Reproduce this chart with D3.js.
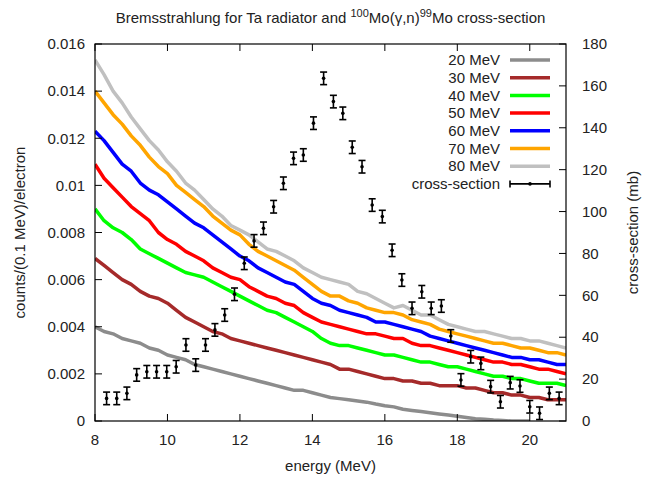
<!DOCTYPE html>
<html>
<head>
<meta charset="utf-8">
<script src="https://cdn.jsdelivr.net/npm/d3@7"></script>
<style>
  body { margin: 0; background: #fff; }
  text { font-family: "Liberation Sans", Arial, sans-serif; fill: #222; }
</style>
</head>
<body>
<script>
// spectra sampled every 0.25 MeV from 8 to 21 MeV
var energies = d3.range(0, 53).map(function(i) { return 8 + i * 0.25; });

var spec20 = [0.0040, 0.0038, 0.0037, 0.0035, 0.0034, 0.0033, 0.0031, 0.0030, 0.0028, 0.0027,
  0.0026, 0.0024, 0.0023, 0.0022, 0.0021, 0.0020, 0.0019, 0.0018, 0.0017, 0.0016,
  0.0015, 0.0014, 0.0013, 0.0013, 0.0012, 0.0011, 0.0010, 0.00095, 0.0009, 0.00085,
  0.0008, 0.00072, 0.00065, 0.0006, 0.0005, 0.00045, 0.0004, 0.00035, 0.0003, 0.00025,
  0.0002, 0.00015, 0.0001, 0.00007, 0.00004, 0.00002, 0, 0, 0];
var spec30 = [0.0069, 0.0066, 0.0063, 0.0060, 0.0058, 0.0055, 0.0053, 0.0052, 0.0050, 0.0047,
  0.0044, 0.0042, 0.0040, 0.0038, 0.0037, 0.0035, 0.0034, 0.0033, 0.0032, 0.0031,
  0.0030, 0.0029, 0.0028, 0.0027, 0.0026, 0.0025, 0.0024, 0.0022, 0.0022, 0.0021,
  0.0020, 0.0019, 0.0018, 0.0018, 0.0017, 0.0017, 0.0016, 0.0016, 0.0015, 0.0015,
  0.0015, 0.0014, 0.0014, 0.0013, 0.0012, 0.0012, 0.0011, 0.0011, 0.0010, 0.0010,
  0.0009, 0.0009, 0.0009];
var spec40 = [0.0090, 0.0085, 0.0082, 0.0080, 0.0077, 0.0073, 0.0071, 0.0069, 0.0067, 0.0065,
  0.0063, 0.0062, 0.0061, 0.0059, 0.0057, 0.0055, 0.0053, 0.0051, 0.0049, 0.0047,
  0.0046, 0.0044, 0.0042, 0.0040, 0.0038, 0.0035, 0.0033, 0.0032, 0.0032, 0.0031,
  0.0030, 0.0029, 0.0028, 0.0028, 0.0027, 0.0026, 0.0025, 0.0025, 0.0024, 0.0023,
  0.0023, 0.0022, 0.0021, 0.0020, 0.0019, 0.0019, 0.0018, 0.0018, 0.0017, 0.0016,
  0.0016, 0.0016, 0.0015];
var spec50 = [0.0109, 0.0103, 0.0099, 0.0095, 0.0091, 0.0088, 0.0085, 0.0080, 0.0077, 0.0075,
  0.0072, 0.0070, 0.0068, 0.0065, 0.0063, 0.0061, 0.0060, 0.0057, 0.0055, 0.0053,
  0.0052, 0.0050, 0.0049, 0.0046, 0.0044, 0.0042, 0.0041, 0.0040, 0.0039, 0.0038,
  0.0037, 0.0037, 0.0036, 0.0035, 0.0035, 0.0033, 0.0032, 0.0032, 0.0031, 0.0030,
  0.0029, 0.0028, 0.0027, 0.0026, 0.0025, 0.0025, 0.0024, 0.0024, 0.0023, 0.0022,
  0.0022, 0.0021, 0.0020];
var spec60 = [0.0123, 0.0119, 0.0114, 0.0109, 0.0106, 0.0101, 0.0098, 0.0096, 0.0093, 0.0090,
  0.0087, 0.0084, 0.0082, 0.0079, 0.0076, 0.0073, 0.0070, 0.0068, 0.0065, 0.0063,
  0.0061, 0.0059, 0.0058, 0.0055, 0.0052, 0.0050, 0.0049, 0.0047, 0.0046, 0.0045,
  0.0044, 0.0042, 0.0042, 0.0041, 0.0040, 0.0039, 0.0038, 0.0036, 0.0035, 0.0034,
  0.0033, 0.0032, 0.0031, 0.0030, 0.0029, 0.0028, 0.0027, 0.0027, 0.0026, 0.0026,
  0.0025, 0.0024, 0.0024];
var spec70 = [0.0140, 0.0135, 0.0130, 0.0126, 0.0121, 0.0117, 0.0112, 0.0108, 0.0105, 0.0100,
  0.0097, 0.0094, 0.0091, 0.0087, 0.0084, 0.0081, 0.0079, 0.0075, 0.0072, 0.0070,
  0.0068, 0.0066, 0.0064, 0.0061, 0.0058, 0.0055, 0.0053, 0.0053, 0.0051, 0.0050,
  0.0048, 0.0047, 0.0046, 0.0046, 0.0045, 0.0043, 0.0042, 0.0041, 0.0039, 0.0038,
  0.0037, 0.0036, 0.0035, 0.0034, 0.0033, 0.0033, 0.0032, 0.0031, 0.0031, 0.0030,
  0.0029, 0.0029, 0.0028];
var spec80 = [0.01532, 0.0147, 0.0140, 0.0135, 0.0129, 0.0124, 0.0119, 0.0115, 0.0110, 0.0106,
  0.0101, 0.0098, 0.0094, 0.0090, 0.0087, 0.0083, 0.0081, 0.0079, 0.0076, 0.0073,
  0.0072, 0.0070, 0.0068, 0.0065, 0.0063, 0.0061, 0.0060, 0.0059, 0.0058, 0.0055,
  0.0054, 0.0052, 0.0050, 0.0048, 0.0049, 0.0047, 0.0045, 0.0045, 0.0043, 0.0041,
  0.0040, 0.0039, 0.0038, 0.0038, 0.0037, 0.0036, 0.0035, 0.0035, 0.0034, 0.0034,
  0.0033, 0.0032, 0.0031];

var seriesNames = ["20 MeV", "30 MeV", "40 MeV", "50 MeV", "60 MeV", "70 MeV", "80 MeV"];
var seriesColors = ["#8c8c8c", "#a52a2a", "#00ff00", "#ff0000", "#0000ff", "#ffa500", "#c0c0c0"];

// 100Mo(g,n) cross-section points (mb)
var csEnergy = [8.32, 8.60, 8.88, 9.15, 9.43, 9.70, 9.98, 10.24, 10.51, 10.78, 11.05, 11.31,
  11.58, 11.85, 12.12, 12.39, 12.65, 12.93, 13.20, 13.48, 13.75, 14.03, 14.31, 14.58, 14.84,
  15.10, 15.37, 15.65, 15.93, 16.20, 16.47, 16.75, 17.02, 17.28, 17.56, 17.82, 18.10, 18.37,
  18.65, 18.92, 19.19, 19.46, 19.73, 20.00, 20.27, 20.54, 20.81];
var csValue = [10.8, 10.8, 13.2, 22.0, 23.5, 23.5, 23.5, 25.9, 36.3, 26.7, 36.3, 43.5,
  50.6, 60.5, 75.3, 86.0, 92.0, 102.3, 113.5, 125.4, 127.0, 142.2, 163.6, 152.5, 146.9,
  130.7, 121.4, 103.1, 97.6, 81.5, 67.3, 53.8, 61.7, 53.8, 54.9, 40.6, 19.6, 30.7,
  27.5, 16.4, 9.2, 18.3, 16.7, 6.8, 3.7, 13.2, 10.8];
var csError = [3, 3, 3, 3, 3, 3, 3, 3, 3, 3, 3, 3, 3, 3, 3, 3, 3, 3, 3, 3, 3, 3, 3, 3, 3,
  3, 3, 3, 3, 3, 3, 3, 3, 3, 3, 3, 3, 3, 3, 3, 3, 3, 3, 3, 3, 3, 3];

var xTicks = [8, 10, 12, 14, 16, 18, 20];
var yTicks = [0, 0.002, 0.004, 0.006, 0.008, 0.01, 0.012, 0.014, 0.016];
var y2Ticks = [0, 20, 40, 60, 80, 100, 120, 140, 160, 180];

const W = 654, H = 477;
const margin = {top: 44, right: 88, bottom: 56, left: 95};
var width = W - margin.left - margin.right;
var height = H - margin.top - margin.bottom;

var svgRoot = d3.select("body").append("svg")
  .attr("width", W)
  .attr("height", H);
svgRoot.append("rect").attr("width", W).attr("height", H).attr("fill", "#fff");

var svg = svgRoot.append("g")
  .attr("transform", "translate(" + margin.left + "," + margin.top + ")");

var x = d3.scaleLinear().domain([8, 21]).range([0, width]);
var y = d3.scaleLinear().domain([0, 0.016]).range([height, 0]);
var y2 = d3.scaleLinear().domain([0, 180]).range([height, 0]);

svg.append("clipPath").attr("id", "plotClip")
  .append("rect").attr("width", width).attr("height", height);

// spectra
var allSpectra = [spec20, spec30, spec40, spec50, spec60, spec70, spec80];
var line = d3.line()
  .x(function(d) { return x(d[0]); })
  .y(function(d) { return y(d[1]); });

var curves = svg.append("g").attr("clip-path", "url(#plotClip)");
allSpectra.forEach(function(vals, i) {
  var pts = vals.map(function(v, j) { return [energies[j], v]; });
  curves.append("path")
    .attr("d", line(pts))
    .attr("fill", "none")
    .attr("stroke", seriesColors[i])
    .attr("stroke-width", 3.5)
    .attr("stroke-linejoin", "round");
});

// cross-section with error bars
var cs = csEnergy.map(function(e, i) { return {e: e, v: csValue[i], err: csError[i]}; });
var bars = svg.append("g").attr("stroke", "#000").attr("stroke-width", 1.6);
bars.selectAll(".eb").data(cs).enter().append("line")
  .attr("x1", function(d) { return x(d.e); })
  .attr("x2", function(d) { return x(d.e); })
  .attr("y1", function(d) { return y2(d.v - d.err); })
  .attr("y2", function(d) { return y2(d.v + d.err); });
[-1, 1].forEach(function(s) {
  bars.selectAll(".cap" + s).data(cs).enter().append("line")
    .attr("x1", function(d) { return x(d.e) - 3.5; })
    .attr("x2", function(d) { return x(d.e) + 3.5; })
    .attr("y1", function(d) { return y2(d.v + s * d.err); })
    .attr("y2", function(d) { return y2(d.v + s * d.err); });
});
svg.selectAll(".csdot").data(cs).enter().append("circle")
  .attr("cx", function(d) { return x(d.e); })
  .attr("cy", function(d) { return y2(d.v); })
  .attr("r", 1.8)
  .attr("fill", "#000");

// axes: ticks inside, labels outside
var fs = 15;
var axisG = svg.append("g");
axisG.append("rect").attr("width", width).attr("height", height)
  .attr("fill", "none").attr("stroke", "#000").attr("stroke-width", 1.2);

xTicks.forEach(function(t) {
  axisG.append("line").attr("x1", x(t)).attr("x2", x(t))
    .attr("y1", height).attr("y2", height - 7).attr("stroke", "#000");
  axisG.append("line").attr("x1", x(t)).attr("x2", x(t))
    .attr("y1", 0).attr("y2", 7).attr("stroke", "#000");
  axisG.append("text").attr("x", x(t)).attr("y", height + 24)
    .attr("text-anchor", "middle").style("font-size", fs + "px").text(t);
});
yTicks.forEach(function(t) {
  axisG.append("line").attr("x1", 0).attr("x2", 7)
    .attr("y1", y(t)).attr("y2", y(t)).attr("stroke", "#000");
  axisG.append("text").attr("x", -10).attr("y", y(t)).attr("dy", "0.35em")
    .attr("text-anchor", "end").style("font-size", fs + "px").text(t);
});
y2Ticks.forEach(function(t) {
  axisG.append("line").attr("x1", width).attr("x2", width - 7)
    .attr("y1", y2(t)).attr("y2", y2(t)).attr("stroke", "#000");
  axisG.append("text").attr("x", width + 16).attr("y", y2(t)).attr("dy", "0.35em")
    .attr("text-anchor", "start").style("font-size", fs + "px").text(t);
});

// axis titles
svg.append("text")
  .attr("x", width / 2).attr("y", height + 50)
  .attr("text-anchor", "middle").style("font-size", "15px")
  .text("energy (MeV)");
svg.append("text")
  .attr("transform", "translate(" + (-70) + "," + height / 2 + ")rotate(-90)")
  .attr("text-anchor", "middle").style("font-size", "15px")
  .text("counts/(0.1 MeV)/electron");
svg.append("text")
  .attr("transform", "translate(" + (width + 72) + "," + height / 2 + ")rotate(-90)")
  .attr("text-anchor", "middle").style("font-size", "15px")
  .text("cross-section (mb)");

// title with superscripts
var title = svgRoot.append("text")
  .attr("x", margin.left + width / 2).attr("y", 23)
  .attr("text-anchor", "middle").style("font-size", "15px");
title.append("tspan").text("Bremsstrahlung for Ta radiator and ");
title.append("tspan").attr("dy", -6).style("font-size", "11px").text("100");
title.append("tspan").attr("dy", 6).text("Mo(\u03b3,n)");
title.append("tspan").attr("dy", -6).style("font-size", "11px").text("99");
title.append("tspan").attr("dy", 6).text("Mo cross-section");

// legend
var legend = svgRoot.append("g").attr("transform", "translate(500,60)");
seriesNames.forEach(function(name, i) {
  var ly = i * 17.7;
  legend.append("text").attr("x", 0).attr("y", ly).attr("dy", "0.35em")
    .attr("text-anchor", "end").style("font-size", fs + "px").text(name);
  legend.append("line").attr("x1", 10).attr("x2", 50)
    .attr("y1", ly).attr("y2", ly)
    .attr("stroke", seriesColors[i]).attr("stroke-width", 3.5);
});
var ly = 7 * 17.7;
legend.append("text").attr("x", 0).attr("y", ly).attr("dy", "0.35em")
  .attr("text-anchor", "end").style("font-size", fs + "px").text("cross-section");
var lg = legend.append("g").attr("stroke", "#000").attr("stroke-width", 1.6);
lg.append("line").attr("x1", 10).attr("x2", 50).attr("y1", ly).attr("y2", ly);
lg.append("line").attr("x1", 10).attr("x2", 10).attr("y1", ly - 3.5).attr("y2", ly + 3.5);
lg.append("line").attr("x1", 50).attr("x2", 50).attr("y1", ly - 3.5).attr("y2", ly + 3.5);
legend.append("circle").attr("cx", 30).attr("cy", ly).attr("r", 1.8).attr("fill", "#000");
</script>
</body>
</html>
